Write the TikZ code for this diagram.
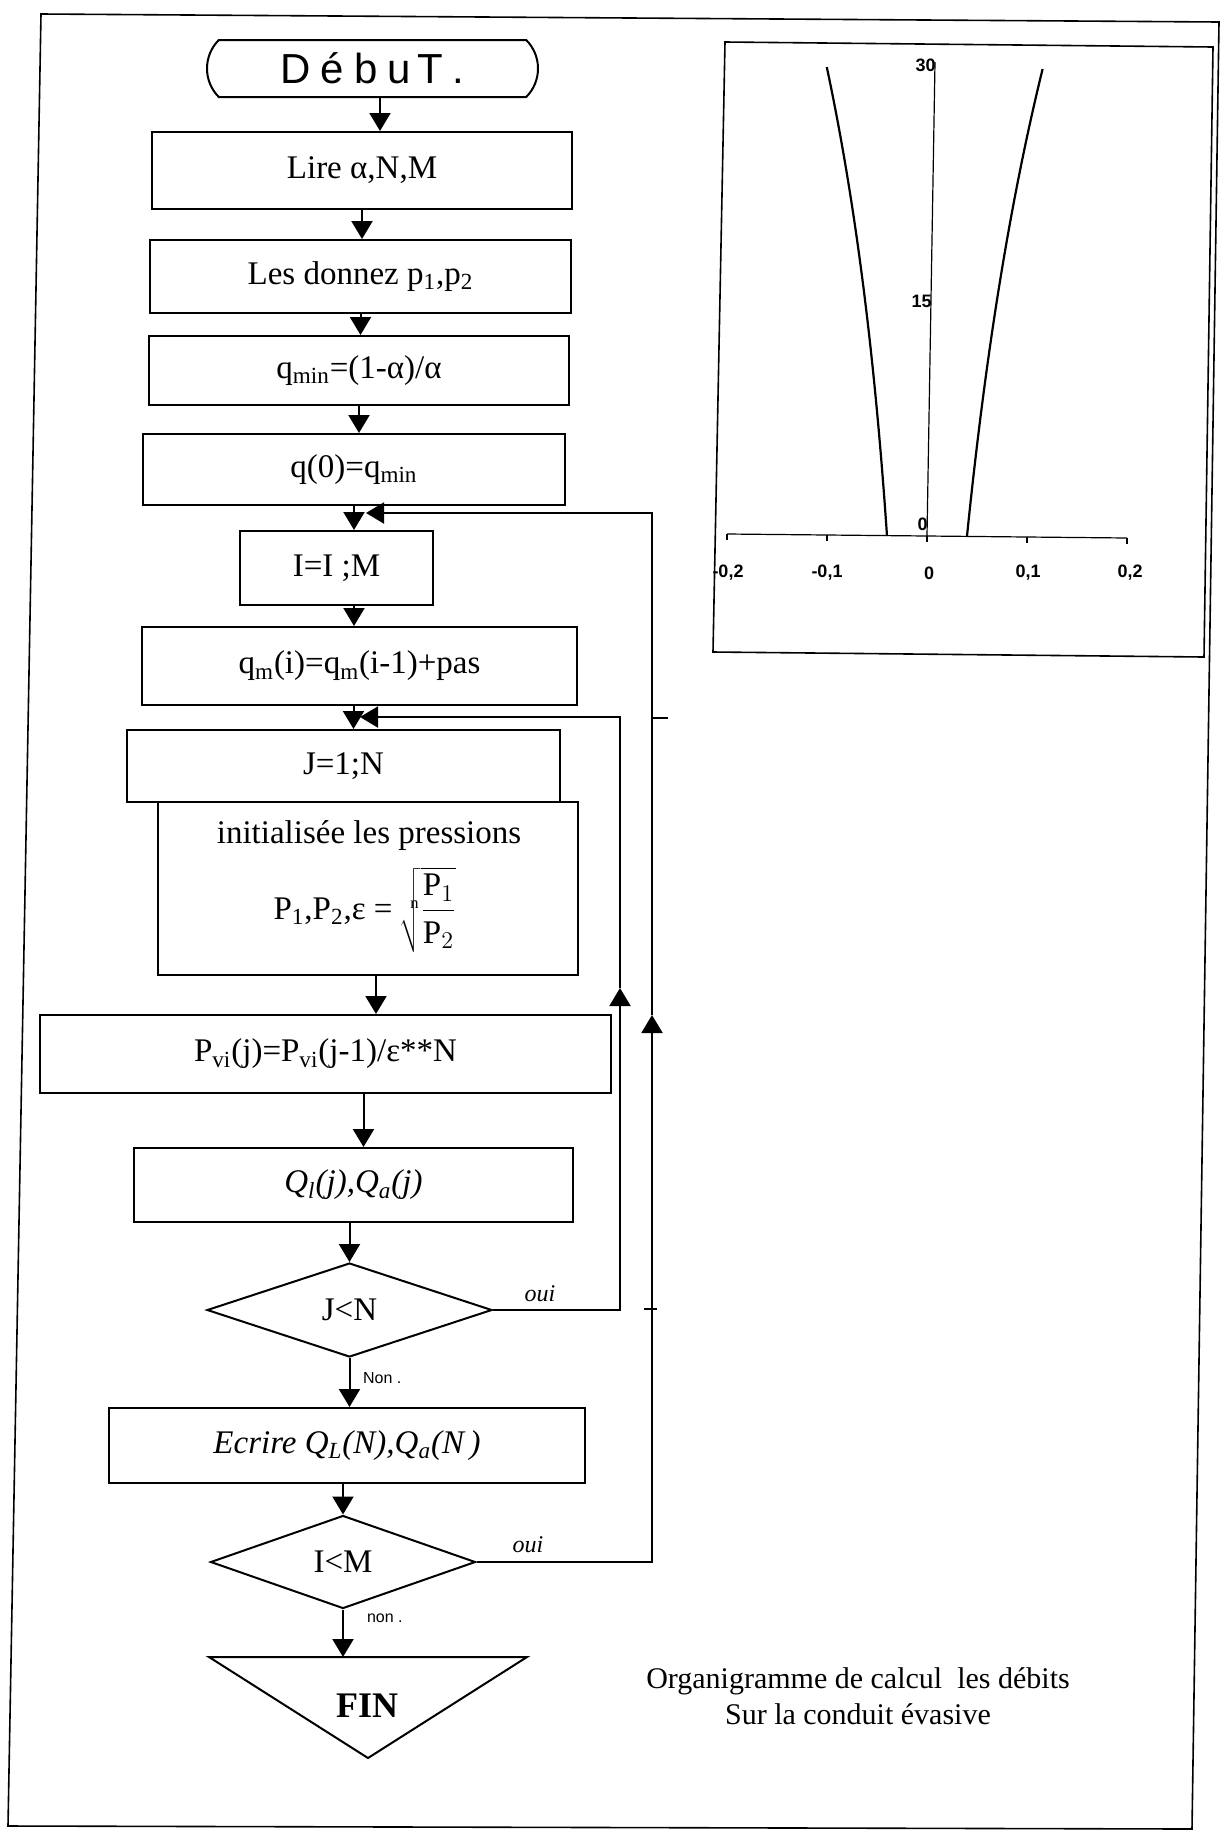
\documentclass[tikz,border=0pt]{standalone}
\usepackage{fontspec}
\setmainfont{Liberation Serif}
\newfontfamily\sansf{Liberation Sans}
\usetikzlibrary{arrows.meta,shapes.geometric,shapes.misc,calc}
\begin{document}
\begin{tikzpicture}[x=0.5pt,y=-0.5pt,
  txt/.style={font=\fontsize{16.5pt}{19pt}\selectfont},
  box/.style={draw,line width=1pt,inner sep=0pt,txt},
  dec/.style={draw,shape=diamond,line width=1pt,inner sep=0pt,txt},
  term/.style={draw,rounded rectangle,rounded rectangle arc length=90,line width=1pt,inner sep=0pt},
  conn/.style={line width=1pt,-{Triangle[width=10.5pt,length=9pt]}},
  plain/.style={line width=1pt},
  hand/.style={font=\fontsize{12pt}{13pt}\selectfont\itshape},
  handsmall/.style={font=\sansf\fontsize{8pt}{9pt}\selectfont},
  axlab/.style={font=\sansf\bfseries\fontsize{9pt}{10pt}\selectfont,inner sep=0pt},
  curve/.style={line width=1.1pt}
]
\useasboundingbox (0,0) rectangle (1228,1837);
% outer frame
\draw[line width=0.8pt] (41,14) -- (1219,22) -- (1192,1829) -- (8,1826) -- cycle;

% flowchart nodes
\node[term,minimum width=165.5pt,minimum height=28.5pt] (debut) at (372.5,68.5)
  {\sansf\fontsize{21pt}{22pt}\selectfont D\hspace{5pt}é\hspace{5pt}b\hspace{5pt}u\hspace{3pt}T\hspace{5pt}.};
\node[box,minimum width=210pt,minimum height=38.5pt] (lire) at (362,170.5) {Lire α,N,M};
\node[box,minimum width=210.5pt,minimum height=36.5pt] (donnez) at (360.5,276.5) {Les donnez p\textsubscript{1},p\textsubscript{2}};
\node[box,minimum width=210pt,minimum height=34.5pt] (qmin) at (359,370.5) {q\textsubscript{min}=(1-α)/α};
\node[box,minimum width=211pt,minimum height=35.5pt] (qzero) at (354,469.5) {q(0)=q\textsubscript{min}};
\node[box,minimum width=96.5pt,minimum height=37pt] (iloop) at (336.5,568) {I=I ;M};
\node[box,minimum width=217.5pt,minimum height=39pt] (qm) at (359.5,666) {q\textsubscript{m}(i)=q\textsubscript{m}(i-1)+pas};
\node[box,minimum width=216.5pt,minimum height=36pt] (jloop) at (343.5,766) {J=1;N};
\node[box,minimum width=210pt,minimum height=86.5pt] (init) at (368,888.5) {};
\node[txt] (inita) at (369,836) {initialisée les pressions};
\node[txt] (initb) at (365,910) {P\textsubscript{1},P\textsubscript{2},ε = $\sqrt[\mathrm{n}]{\displaystyle\frac{\mathrm{P}_1}{\mathrm{P}_2}}$};
\node[box,minimum width=285.5pt,minimum height=39pt] (pvi) at (325.5,1054) {P\textsubscript{vi}(j)=P\textsubscript{vi}(j-1)/ε**N};
\node[box,minimum width=219.5pt,minimum height=37pt] (qi) at (353.5,1185) {\textit{Q\textsubscript{l}(j),Q\textsubscript{a}(j)}};
\node[dec,minimum width=142.5pt,minimum height=47pt] (jn) at (349.5,1310) {J<N};
\node[box,minimum width=238pt,minimum height=37.5pt] (ecr) at (347,1445.5) {\textit{Ecrire Q\textsubscript{L}(N),Q\textsubscript{a}(N\,)}};
\node[dec,minimum width=132.5pt,minimum height=46.5pt] (im) at (343,1562) {I<M};
\coordinate (finl) at (209,1657);
\coordinate (finr) at (527,1657);
\coordinate (finb) at (368,1758);
\draw[plain] (finl) -- (finr) -- (finb) -- cycle;
\node[font=\bfseries\fontsize{18pt}{20pt}\selectfont] (fin) at (367,1706) {FIN};

% straight connectors
\draw[conn] ($(debut.south)+(7.5,0)$) -- ($(debut.south |- lire.north)+(7.5,0)$);
\draw[conn] (lire.south) -- (lire.south |- donnez.north);
\draw[conn] (donnez.south) -- (donnez.south |- qmin.north);
\draw[conn] (qmin.south) -- (qmin.south |- qzero.north);
\draw[conn] (qzero.south) -- (qzero.south |- iloop.north);
\draw[conn] ($(iloop.south)+(17.5,0)$) -- ($(iloop.south |- qm.north)+(17.5,0)$);
\draw[conn] ($(qm.south)+(-6,0)$) -- ($(qm.south |- jloop.north)+(-6,0)$);
\draw[conn] ($(init.south)+(8,0)$) -- ($(init.south |- pvi.north)+(8,0)$);
\draw[conn] ($(qi.north |- pvi.south)+(10,0)$) -- ($(qi.north)+(10,0)$);
\draw[conn] (jn.north |- qi.south) -- (jn.north);
\draw[conn] (jn.south) -- (jn.south |- ecr.north);
\draw[conn] (im.north |- ecr.south) -- (im.north);
\draw[conn] (im.south) -- (im.south |- finl);

% inner loop (J)
\coordinate (ja) at (620,1310);
\coordinate (jm) at (620,988);
\coordinate (jb) at (620,717);
\coordinate (jend) at (360,717);
\draw[conn] (jn.east) -- (ja) -- (jm);
\draw[conn] (jm) -- (jb) -- (jend);
% outer loop (I)
\coordinate (ia) at (652,1562);
\coordinate (imid) at (652,1015);
\coordinate (ib) at (652,513);
\coordinate (iend) at (366,513);
\draw[conn] (im.east) -- (ia) -- (imid);
\draw[conn] (imid) -- (ib) -- (iend);
\draw[plain] (652,718) -- (668,718);
\draw[plain] (644,1309) -- (657,1309);

% labels
\node[hand] (oui1) at (540,1294) {oui};
\node[hand] (oui2) at (528,1545) {oui};
\node[handsmall,anchor=west] (non1) at (356,1378) {Non .};
\node[handsmall,anchor=west] (non2) at (360,1618) {non .};

% caption
\node[align=center,font=\fontsize{15pt}{18pt}\selectfont] (caption) at (858,1696)
  {Organigramme de calcul\ \ les débits\\Sur la conduit évasive};

% graph
\draw[line width=0.8pt] (725,42) -- (1213,47) -- (1204,657) -- (713,652) -- cycle;
\draw[line width=0.6pt] (727,534) -- (1127,538);
\foreach \xx/\yy in {727/534,827/535,927/536,1027/537,1127/538}
  \draw[line width=0.6pt] (\xx,\yy) -- (\xx,\yy+6);
\draw[line width=0.6pt] (927,536) -- (935,62);
\node[axlab] (xl1) at (728,573) {-0,2};
\node[axlab] (xl2) at (827,573) {-0,1};
\node[axlab] (xl3) at (929,573) {0};
\node[axlab] (xl4) at (1028,573) {0,1};
\node[axlab] (xl5) at (1130,573) {0,2};
\node[axlab,anchor=east] (yl0) at (928,524) {0};
\node[axlab,anchor=east] (yl15) at (932,301) {15};
\node[axlab,anchor=east] (yl30) at (936,65) {30};
\draw[curve] plot[domain=0:469,samples=50,variable=\h] ({927+0.0169*\h-40*exp(0.00212*\h)},{536-\h});
\draw[curve] plot[domain=0:467,samples=50,variable=\h] ({927+0.0169*\h+40*exp(0.00212*\h)},{536-\h});
\end{tikzpicture}
\end{document}
